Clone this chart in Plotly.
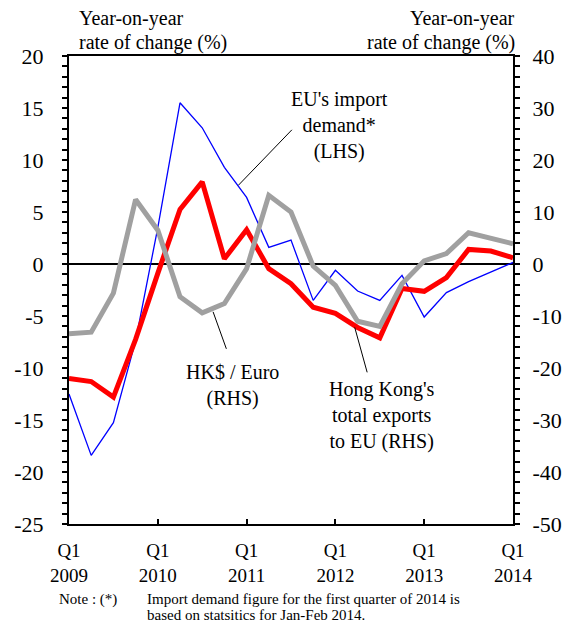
import plotly.graph_objects as go

quarters = list(range(21))
tick_pos = [0, 4, 8, 12, 16, 20]
tick_text = ["Q1<br>2009", "Q1<br>2010", "Q1<br>2011", "Q1<br>2012", "Q1<br>2013", "Q1<br>2014"]
lhs_ticks = [20, 15, 10, 5, 0, -5, -10, -15, -20, -25]
lhs_text = ["20", "15", "10", "5", "0", "-5", "-10", "-15", "-20", "-25"]
rhs_ticks = [40, 30, 20, 10, 0, -10, -20, -30, -40, -50]
rhs_text = ["40", "30", "20", "10", "0", "-10", "-20", "-30", "-40", "-50"]

eu_import_demand = [-12.5, -18.4, -15.25, -7.4, 3.5, 15.5, 13.1, 9.3, 6.4, 1.6, 2.3,
                    -3.5, -0.6, -2.6, -3.5, -1.1, -5.1, -2.75, -1.7, -0.8, 0.15]
hk_exports_eu = [-22.0, -22.6, -25.6, -14.5, -1.8, 10.5, 15.8, 1.0, 6.6, -0.9, -3.8,
                 -8.3, -9.5, -12.2, -14.2, -4.7, -5.25, -2.6, 2.8, 2.5, 1.2]
hkd_euro = [-13.4, -13.1, -5.6, 12.4, 6.5, -6.3, -9.4, -7.6, -0.9, 13.2, 10.0,
            -0.4, -4.1, -11.0, -12.0, -3.8, 0.6, 2.0, 6.0, 5.0, 3.9]

FONT = "Liberation Serif, Times New Roman, serif"

fig = go.Figure()
fig.add_trace(go.Scatter(x=quarters, y=hk_exports_eu, yaxis="y2", mode="lines",
                         line=dict(color="#FF0000", width=5), showlegend=False))
fig.add_trace(go.Scatter(x=quarters, y=hkd_euro, yaxis="y2", mode="lines",
                         line=dict(color="#A0A0A0", width=5), showlegend=False))
fig.add_trace(go.Scatter(x=quarters, y=eu_import_demand, yaxis="y", mode="lines",
                         line=dict(color="#0000FF", width=1.3), showlegend=False))

fig.update_layout(
    width=565, height=618,
    margin=dict(l=61, r=60, t=48, b=102, autoexpand=False),
    paper_bgcolor="white", plot_bgcolor="white",
    font=dict(family=FONT, size=19, color="black"),
    xaxis=dict(range=[0, 20], tickvals=tick_pos, ticktext=tick_text, automargin=False,
               ticks="inside", ticklen=5, tickwidth=1.5, tickcolor="black",
               showline=True, linecolor="black", linewidth=2, mirror=True,
               showgrid=False, zeroline=False, ticklabelstandoff=8,
               tickfont=dict(size=19)),
    xaxis2=dict(range=[0, 20], overlaying="x", anchor="y", side="bottom", automargin=False,
                dtick=1, tick0=0, ticks="outside", ticklen=4, tickwidth=1.5,
                tickcolor="black", showticklabels=False, showline=False,
                showgrid=False, zeroline=False),
    yaxis=dict(range=[-25, 20], tickvals=lhs_ticks, ticktext=lhs_text, automargin=False,
               ticks="outside", ticklen=5, tickwidth=1.5, tickcolor="black",
               minor=dict(dtick=1, tick0=0, ticks="outside", ticklen=5, tickwidth=1.5, tickcolor="black"),
               showline=True, linecolor="black", linewidth=2,
               showgrid=False, zeroline=True, zerolinecolor="black", zerolinewidth=1.5,
               ticklabelstandoff=14, tickfont=dict(size=22)),
    yaxis2=dict(range=[-50, 40], tickvals=rhs_ticks, ticktext=rhs_text, automargin=False,
                overlaying="y", side="right",
                ticks="outside", ticklen=5, tickwidth=1.5, tickcolor="black",
                minor=dict(dtick=2, tick0=0, ticks="outside", ticklen=5, tickwidth=1.5, tickcolor="black"),
                showline=True, linecolor="black", linewidth=2,
                showgrid=False, zeroline=False,
                ticklabelstandoff=8, tickfont=dict(size=22)),
)

ann = []
for (xp, xa, al) in [(0.018, "left", "left"), (1.009, "right", "right")]:
    ann.append(dict(xref="paper", yref="paper", x=xp, y=1, xanchor=xa, yanchor="middle",
                    yshift=38, text="Year-on-year", showarrow=False, align=al,
                    font=dict(size=20)))
    ann.append(dict(xref="paper", yref="paper", x=xp, y=1, xanchor=xa, yanchor="middle",
                    yshift=14, text="rate of change (%)", showarrow=False, align=al,
                    font=dict(size=20)))
# labels
ann.append(dict(xref="x", yref="y", x=12.18, y=13.3, text="EU's import<br>demand*<br>(LHS)",
                showarrow=False, align="center", font=dict(size=20)))
ann.append(dict(xref="x", yref="y", x=7.35, y=-11.66, text="HK$ / Euro<br>(RHS)",
                showarrow=False, align="center", font=dict(size=20)))
ann.append(dict(xref="x", yref="y", x=14.08, y=-14.55, text="Hong Kong's<br>total exports<br>to EU (RHS)",
                showarrow=False, align="center", font=dict(size=20)))
# pointer lines
for (px, py, ax, ay) in [(7.63, 7.57, 55, -57), (6.49, -4.6, 14, 39), (12.87, -6.09, 13, 47)]:
    ann.append(dict(xref="x", yref="y", x=px, y=py, ax=ax, ay=ay, text=" ",
                    showarrow=True, arrowhead=0, arrowwidth=1, arrowcolor="black",
                    standoff=0, startstandoff=0, font=dict(size=1)))
# note
ann.append(dict(xref="paper", yref="paper", x=-0.027, y=0, yshift=-75, xanchor="left", yanchor="middle",
                text="Note : (*)", showarrow=False, font=dict(size=15)))
ann.append(dict(xref="paper", yref="paper", x=0.171, y=0, yshift=-75, xanchor="left", yanchor="middle",
                text="Import demand figure for the first quarter of 2014 is", showarrow=False,
                font=dict(size=15)))
ann.append(dict(xref="paper", yref="paper", x=0.171, y=0, yshift=-91, xanchor="left", yanchor="middle",
                text="based on statsitics for Jan-Feb 2014.", showarrow=False,
                font=dict(size=15)))
fig.update_layout(annotations=ann)

fig.write_html("out.html")
